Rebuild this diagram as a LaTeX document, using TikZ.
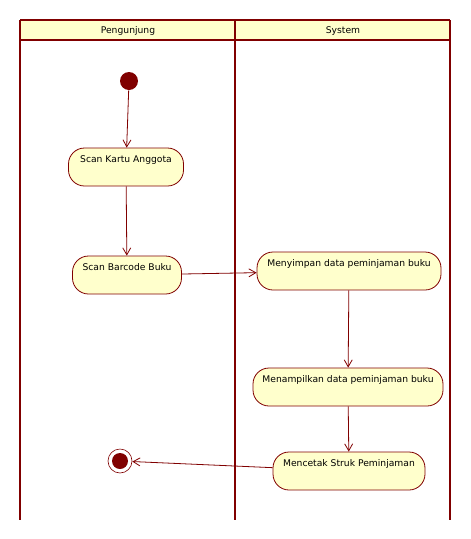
\documentclass[tikz,border=0pt]{standalone}
\usepackage{fontspec}
\setmainfont{DejaVu Sans}
\usetikzlibrary{arrows.meta}
\definecolor{umlred}{RGB}{128,0,0}
\definecolor{umlfill}{RGB}{255,255,204}
\begin{document}
\begin{tikzpicture}[x=1pt, y=-1pt, >={Straight Barb[length=7pt,width=8pt]}, line width=.8pt,
  act node/.style={draw=umlred, fill=umlfill, rounded corners=16pt, font=\fontsize{9.2}{11}\selectfont, text height=10pt, text depth=20pt, inner ysep=4pt, inner xsep=0pt},
  lane/.style={draw=umlred, line width=2.6pt}]
\useasboundingbox (0,0) rectangle (471,539);
% swimlanes
\fill [umlfill] (20,20) rectangle (450,40);
\draw [lane] (20,20) -- (450,20) (20,40) -- (450,40);
\draw [lane] (20,20) -- (20,520) (235,20) -- (235,520) (450,20) -- (450,520);
\node (l1) at (128,31) {\fontsize{9.2}{11}\selectfont Pengunjung};
\node (l2) at (343,31) {\fontsize{9.2}{11}\selectfont System};
\begin{scope}[every node/.style={act node}]
\node [minimum width=115pt](v1) at (126,167) {Scan Kartu Anggota};
\node [minimum width=109pt](v2) at (127,275) {Scan Barcode Buku};
\node [minimum width=184pt](v3) at (349,271) {Menyimpan data peminjaman buku};
\node [minimum width=190pt](v4) at (348,387) {Menampilkan data peminjaman buku};
\node [minimum width=152pt](v5) at (349,471) {Mencetak Struk Peminjaman};
\end{scope}
\node [circle, fill=umlred, minimum size=18pt, inner sep=0pt](start) at (129,81) {};
\node [circle, draw=umlred, line width=.6pt, minimum size=24pt, inner sep=0pt](end) at (120,461) {};
\node [circle, fill=umlred, minimum size=16pt, inner sep=0pt](endin) at (120,461) {};
\path [draw=umlred, ->]
	(start) edge (v1)
	(v1) edge (v2)
	(v2) edge (v3)
	(v3) edge (v4)
	(v4) edge (v5)
	(v5) edge (end)
	;
\end{tikzpicture}
\end{document}
